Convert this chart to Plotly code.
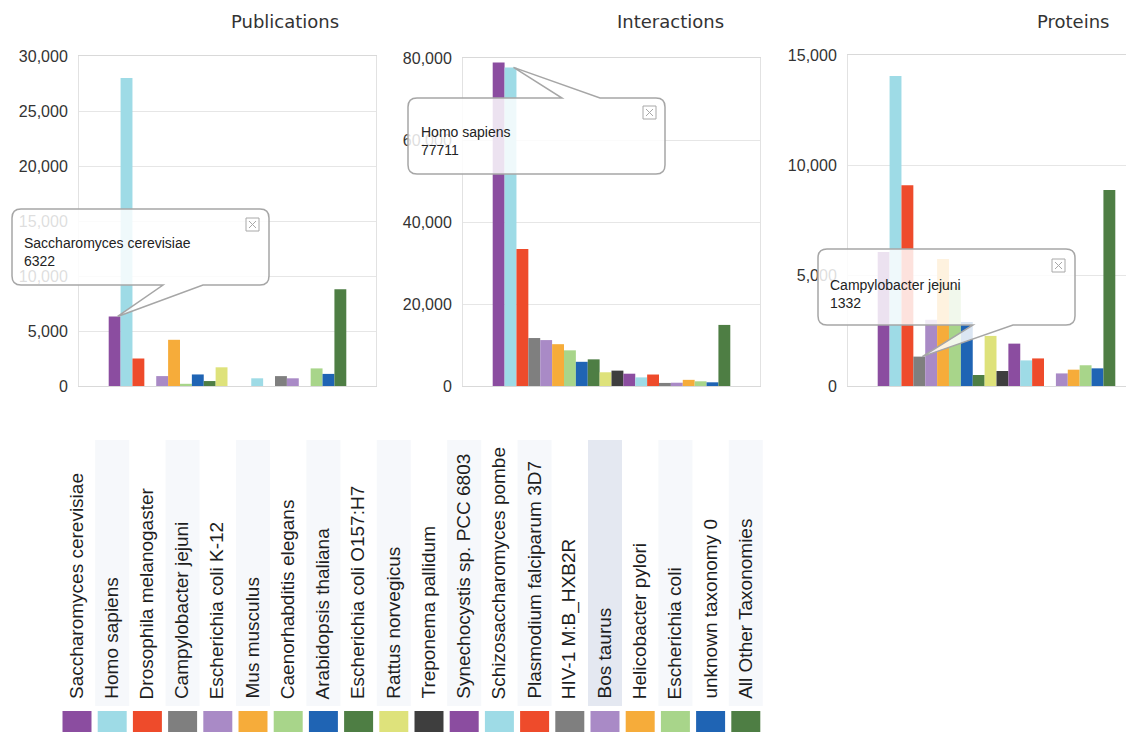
import plotly.graph_objects as go

# ---------------- data ----------------
taxa = ["Saccharomyces cerevisiae", "Homo sapiens", "Drosophila melanogaster",
        "Campylobacter jejuni", "Escherichia coli K-12", "Mus musculus",
        "Caenorhabditis elegans", "Arabidopsis thaliana", "Escherichia coli O157:H7",
        "Rattus norvegicus", "Treponema pallidum", "Synechocystis sp. PCC 6803",
        "Schizosaccharomyces pombe", "Plasmodium falciparum 3D7", "HIV-1 M:B_HXB2R",
        "Bos taurus", "Helicobacter pylori", "Escherichia coli",
        "unknown taxonomy 0", "All Other Taxonomies"]

publications = [6322, 28000, 2500, 0, 900, 4200, 200, 1050, 450, 1700,
                0, 0, 700, 0, 900, 700, 0, 1600, 1100, 8800]
interactions = [78900, 77711, 33400, 11700, 11200, 10200, 8700, 5900, 6500, 3350,
                3750, 3000, 2100, 2800, 750, 800, 1500, 1150, 900, 14900]
proteins = [6070, 14050, 9100, 1332, 3000, 5750, 4500, 2900, 500, 2270,
            680, 1920, 1160, 1250, 0, 570, 740, 940, 800, 8880]

panel_titles = ["Publications", "Interactions", "Proteins"]

colors = ["#8B4DA0", "#9EDBE6", "#EE4B2B", "#7F7F7F", "#A98AC6", "#F6AC3A",
          "#A8D58A", "#1F64B4", "#4E7E44", "#DEE27B", "#3E3E3E", "#8B4DA0",
          "#9EDBE6", "#EE4B2B", "#7F7F7F", "#A98AC6", "#F6AC3A", "#A8D58A",
          "#1F64B4", "#4E7E44"]

# tooltips: (panel index, taxon index)
tooltips = [(0, 0), (1, 1), (2, 3)]

# ---------------- geometry (window pixels) ----------------
WIN_W, WIN_H = 1134, 732
OFF = 8                      # default page body margin
W, H = WIN_W - OFF, WIN_H - OFF


def px(x):
    return (x - OFF) / W


def py(y):
    return 1 - (y - OFF) / H


panels = [
    dict(vals=publications, x0=79, x1=376, ytop=56, ybot=386, ymax=30000, dtick=5000, tx=285),
    dict(vals=interactions, x0=463, x1=760, ytop=58, ybot=386, ymax=80000, dtick=20000, tx=670),
    dict(vals=proteins, x0=848, x1=1145, ytop=55, ybot=386, ymax=15000, dtick=5000, tx=1073),
]

tip_boxes = [
    dict(box=(12, 209, 269, 285), side="bottom", base=(163, 203), text_xy=(22, 233), close=(246, 218)),
    dict(box=(408, 98, 665, 174), side="top", base=(562, 600), text_xy=(419, 122), close=(643, 106)),
    dict(box=(818, 249, 1075, 325), side="bottom", base=(973, 1013), text_xy=(828, 275), close=(1052, 259)),
]

fig = go.Figure()
layout = dict(width=W, height=H, margin=dict(l=0, r=0, t=0, b=0),
              paper_bgcolor="white", plot_bgcolor="white", showlegend=False,
              barmode="group", bargap=0.2, bargroupgap=0,
              font=dict(family="Liberation Sans, Arial, sans-serif", color="#333"),
              hovermode=False)

shapes = []
annotations = []

for p_i, p in enumerate(panels):
    sfx = "" if p_i == 0 else str(p_i + 1)
    xa, ya = "x" + sfx, "y" + sfx
    for i, t in enumerate(taxa):
        fig.add_trace(go.Bar(x=[0], y=[p["vals"][i]], name=t, marker_color=colors[i],
                             marker_line_width=0, xaxis=xa, yaxis=ya, offsetgroup=str(i)))
    right = min(p["x1"], WIN_W)
    xr1 = -0.5 + (right - p["x0"]) / (p["x1"] - p["x0"])
    layout["xaxis" + sfx] = dict(domain=[px(p["x0"]), min(px(right), 1.0)], range=[-0.5, xr1],
                                  showticklabels=False, showgrid=False, zeroline=False,
                                  showline=True, mirror=True, linecolor="#D9D9D9", linewidth=1,
                                  anchor=ya, fixedrange=True, automargin=False)
    layout["yaxis" + sfx] = dict(domain=[py(p["ybot"]), py(p["ytop"])], range=[0, p["ymax"]],
                                  dtick=p["dtick"], tickformat=",", showgrid=True, gridcolor="#E6E6E6",
                                  zeroline=False, showline=True, mirror=True, linecolor="#E2E2E2",
                                  ticks="outside", ticklen=7, tickcolor="rgba(0,0,0,0)",
                                  tickfont=dict(size=16, color="#333",
                                                family="Liberation Sans, Arial, sans-serif"),
                                  anchor=xa, fixedrange=True, automargin=False)
    annotations.append(dict(text=panel_titles[p_i], x=px(p["tx"]), y=py(21), xref="paper", yref="paper",
                            showarrow=False, xanchor="center", yanchor="middle",
                            font=dict(size=18, color="#333", family="DejaVu Sans, sans-serif")))


# ---------------- tooltips ----------------
def tooltip_path(box, side, base, tip, r=9):
    x0, y0, x1, y1 = box
    cmds = [f"M{px(x0 + r)},{py(y0)}"]
    if side == "top":
        cmds += [f"L{px(base[0])},{py(y0)}", f"L{px(tip[0])},{py(tip[1])}", f"L{px(base[1])},{py(y0)}"]
    cmds += [f"L{px(x1 - r)},{py(y0)}", f"Q{px(x1)},{py(y0)} {px(x1)},{py(y0 + r)}",
             f"L{px(x1)},{py(y1 - r)}", f"Q{px(x1)},{py(y1)} {px(x1 - r)},{py(y1)}"]
    if side == "bottom":
        cmds += [f"L{px(base[1])},{py(y1)}", f"L{px(tip[0])},{py(tip[1])}", f"L{px(base[0])},{py(y1)}"]
    cmds += [f"L{px(x0 + r)},{py(y1)}", f"Q{px(x0)},{py(y1)} {px(x0)},{py(y1 - r)}",
             f"L{px(x0)},{py(y0 + r)}", f"Q{px(x0)},{py(y0)} {px(x0 + r)},{py(y0)}", "Z"]
    return " ".join(cmds)


for (p_i, t_i), tb in zip(tooltips, tip_boxes):
    p = panels[p_i]
    val = p["vals"][t_i]
    bar_cx = p["x0"] + (p["x1"] - p["x0"]) * (0.1 + 0.04 * (t_i + 0.5))
    bar_top = p["ybot"] - val / p["ymax"] * (p["ybot"] - p["ytop"])
    tip = (bar_cx + 3, bar_top)
    shapes.append(dict(type="path", xref="paper", yref="paper", layer="above",
                       path=tooltip_path(tb["box"], tb["side"], tb["base"], tip),
                       fillcolor="rgba(255,255,255,0.84)", line=dict(color="#A6A6A6", width=1.5)))
    cx, cy = tb["close"]
    s = 13
    shapes.append(dict(type="rect", xref="paper", yref="paper", layer="above",
                       x0=px(cx), x1=px(cx + s), y0=py(cy + s), y1=py(cy),
                       line=dict(color="#A8A8A8", width=1), fillcolor="rgba(255,255,255,0)"))
    shapes.append(dict(type="line", xref="paper", yref="paper", layer="above",
                       x0=px(cx + 3), x1=px(cx + s - 3), y0=py(cy + 3), y1=py(cy + s - 3),
                       line=dict(color="#A8A8A8", width=1)))
    shapes.append(dict(type="line", xref="paper", yref="paper", layer="above",
                       x0=px(cx + 3), x1=px(cx + s - 3), y0=py(cy + s - 3), y1=py(cy + 3),
                       line=dict(color="#A8A8A8", width=1)))
    tx, ty = tb["text_xy"]
    annotations.append(dict(text=f"{taxa[t_i]}<br>{val}", x=px(tx), y=py(ty), xref="paper", yref="paper",
                            showarrow=False, xanchor="left", yanchor="top", align="left",
                            font=dict(size=14, color="#222", family="Liberation Sans, Arial, sans-serif")))

# ---------------- legend table ----------------
col0, col_step = 77, 35.2
for i, t in enumerate(taxa):
    c = col0 + col_step * i
    if t == "Bos taurus":
        shapes.append(dict(type="rect", xref="paper", yref="paper", layer="below",
                           x0=px(c - 17), x1=px(c + 17), y0=py(706), y1=py(440),
                           fillcolor="#E4E8F1", line=dict(width=0)))
    elif i % 2 == 1:
        shapes.append(dict(type="rect", xref="paper", yref="paper", layer="below",
                           x0=px(c - 17), x1=px(c + 17), y0=py(706), y1=py(440),
                           fillcolor="#F6F8FB", line=dict(width=0)))
    shapes.append(dict(type="rect", xref="paper", yref="paper", layer="above",
                       x0=px(c - 14.5), x1=px(c + 14.5), y0=py(733), y1=py(711),
                       fillcolor=colors[i], line=dict(width=0)))
    annotations.append(dict(text=t, x=px(c - 1), y=py(701), xref="paper", yref="paper",
                            showarrow=False, textangle=-90, xanchor="center", yanchor="bottom",
                            font=dict(size=19, color="#1E1E1E",
                                      family="Liberation Sans, Arial, sans-serif")))

layout["shapes"] = shapes
layout["annotations"] = annotations
fig.update_layout(**layout)
fig.write_html("out.html")
